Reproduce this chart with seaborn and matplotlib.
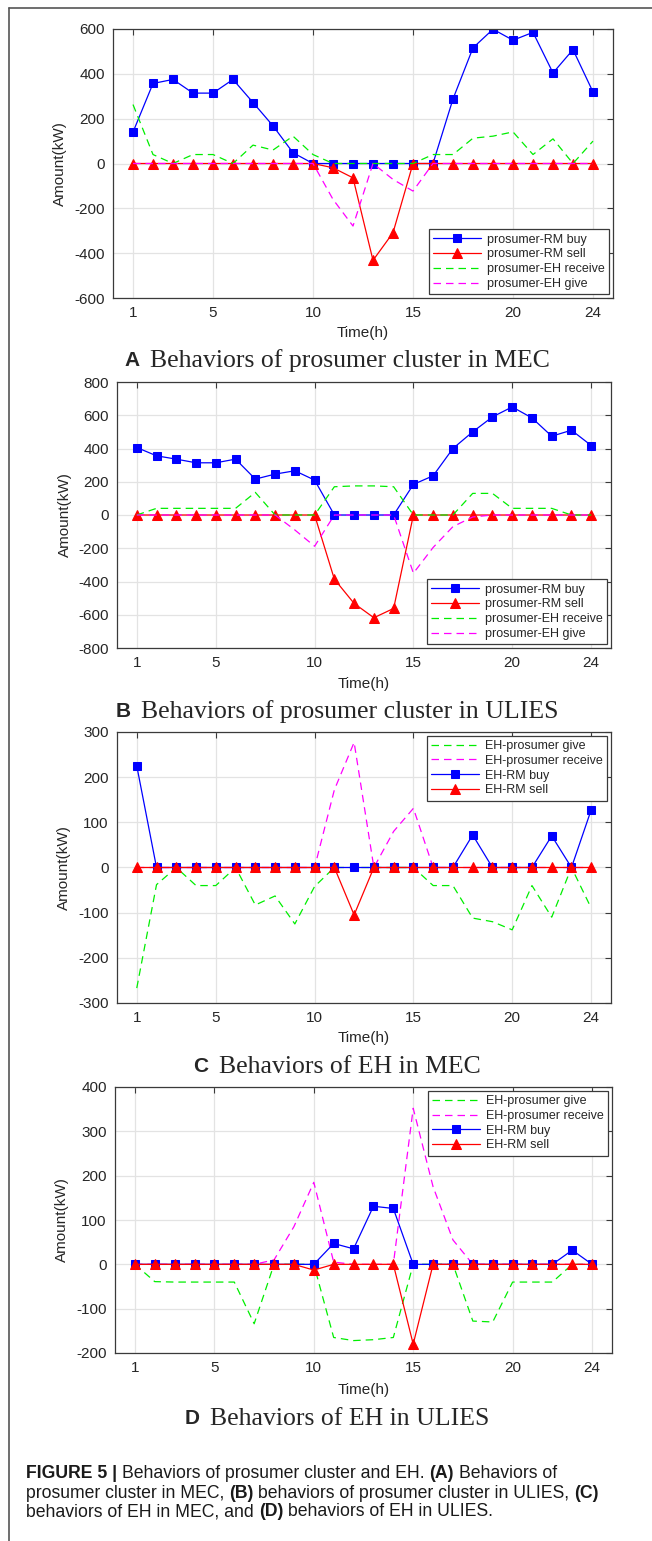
import matplotlib
matplotlib.use("Agg")
import matplotlib.pyplot as plt
import seaborn as sns
import pandas as pd
from matplotlib.lines import Line2D

# hours on the x axis
hours = list(range(1, 25))

# (A) prosumer cluster in MEC
a_rm_buy = [140, 357, 375, 314, 314, 375, 272, 168, 48, 0, 0, 0, 0, 0, 0, 0, 288, 516, 599, 550, 585, 404, 508, 319]
a_rm_sell = [0, 0, 0, 0, 0, 0, 0, 0, 0, 0, -19, -64, -432, -309, 0, 0, 0, 0, 0, 0, 0, 0, 0, 0]
a_eh_receive = [263, 40, 0, 40, 40, 0, 82, 60, 122, 40, 0, 0, 0, 0, 0, 40, 40, 113, 122, 141, 40, 110, 0, 100]
a_eh_give = [0, 0, 0, 0, 0, 0, 0, 0, 0, 0, -160, -279, 0, -71, -123, 0, 0, 0, 0, 0, 0, 0, 0, 0]

# (B) prosumer cluster in ULIES
b_rm_buy = [406, 356, 336, 314, 314, 336, 216, 246, 266, 210, 0, 0, 0, 0, 184, 236, 400, 500, 590, 650, 584, 474, 510, 418]
b_rm_sell = [0, 0, 0, 0, 0, 0, 0, 0, 0, 0, -386, -532, -618, -562, 0, 0, 0, 0, 0, 0, 0, 0, 0, 0]
b_eh_receive = [0, 40, 40, 40, 40, 40, 136, 0, 0, 0, 170, 175, 175, 170, 0, 0, 0, 130, 130, 40, 40, 40, 0, 0]
b_eh_give = [0, 0, 0, 0, 0, 0, 0, 0, -90, -188, 0, 0, 0, 0, -350, -195, -70, -12, 0, 0, 0, 0, 0, 0]

# (C) EH in MEC
c_pro_give = [-267, -38, 0, -40, -40, 0, -83, -63, -125, -42, 0, 0, 0, 0, 0, -40, -40, -112, -120, -138, -40, -110, 0, -90]
c_pro_receive = [0, 0, 0, 0, 0, 0, 0, 0, 0, 0, 172, 277, 0, 80, 131, 0, 0, 0, 0, 0, 0, 0, 0, 0]
c_rm_buy = [225, 0, 0, 0, 0, 0, 0, 0, 0, 0, 0, 0, 0, 0, 0, 0, 0, 72, 0, 0, 0, 70, 0, 128]
c_rm_sell = [0, 0, 0, 0, 0, 0, 0, 0, 0, 0, 0, -105, 0, 0, 0, 0, 0, 0, 0, 0, 0, 0, 0, 0]

# (D) EH in ULIES
d_pro_give = [0, -39, -40, -40, -40, -40, -134, 0, 0, 0, -165, -172, -170, -165, 0, 0, 0, -128, -130, -40, -40, -40, 0, 0]
d_pro_receive = [0, 0, 0, 0, 0, 0, 0, 10, 85, 185, 5, 0, 0, 0, 352, 175, 55, 0, 0, 0, 0, 0, 0, 0]
d_rm_buy = [0, 0, 0, 0, 0, 0, 0, 0, 0, 0, 47, 35, 131, 126, 0, 0, 0, 0, 0, 0, 0, 0, 32, 0]
d_rm_sell = [0, 0, 0, 0, 0, 0, 0, 0, 0, -13, 0, 0, 0, 0, -180, 0, 0, 0, 0, 0, 0, 0, 0, 0]

xticks = [1, 5, 10, 15, 20, 24]

sns.set_style("whitegrid")
plt.rcParams["font.family"] = ["Liberation Sans", "DejaVu Sans"]
plt.rcParams["axes.unicode_minus"] = False

W, H = 652, 1541
fig = plt.figure(figsize=(W / 100, H / 100), dpi=100)

STYLE = {
    "buy": dict(color="#0000ff", marker="s", markersize=5.5, linestyle="-"),
    "sell": dict(color="#ff0000", marker="^", markersize=7.5, linestyle="-"),
    "green": dict(color="#00ee00", marker=None, linestyle=(0, (6, 4))),
    "magenta": dict(color="#ff00ff", marker=None, linestyle=(0, (6, 4))),
}


def draw_series(ax, values, label, kind):
    st = STYLE[kind]
    df = pd.DataFrame({"hour": hours, "val": values})
    kws = dict(color=st["color"], linestyle=st["linestyle"], linewidth=0.9)
    if st["marker"]:
        kws.update(marker=st["marker"], markersize=st["markersize"],
                   markeredgecolor=st["color"], markerfacecolor=st["color"])
    sns.lineplot(data=df, x="hour", y="val", ax=ax, label=label, **kws)


def panel(box, series, ylim, yticks, legend_loc, xlab_y, ylab_x, letter, caption, cap_y):
    left, top, right, bottom = box
    ax = fig.add_axes([left / W, 1 - bottom / H, (right - left) / W, (bottom - top) / H])
    for values, label, kind in series:
        draw_series(ax, values, label, kind)
    ax.set_xlim(0, 25)
    ax.set_ylim(*ylim)
    ax.set_xticks(xticks)
    ax.set_yticks(yticks)
    ax.grid(True, color="#e3e3e3", linewidth=0.9)
    for s in ax.spines.values():
        s.set_color("#3a3a3a")
        s.set_linewidth(0.9)
    ax.tick_params(direction="in", top=True, right=True, length=4, width=0.8,
                   color="#3a3a3a", labelsize=11, labelcolor="#262626", pad=6)
    ax.set_xlabel("Time(h)", fontsize=11, color="#262626")
    ax.set_ylabel("Amount(kW)", fontsize=11, color="#262626")
    ax.xaxis.label.set_va("center")
    ax.yaxis.label.set_va("center")
    h = bottom - top
    w = right - left
    ax.xaxis.set_label_coords(0.5, -(xlab_y - bottom) / h)
    ax.yaxis.set_label_coords(-(left - ylab_x) / w, 0.5)
    leg = ax.legend(loc=legend_loc, fontsize=9, handlelength=3.8, labelspacing=0.22,
                    borderpad=0.35, borderaxespad=0.3, handletextpad=0.5,
                    fancybox=False, framealpha=1, edgecolor="#3a3a3a")
    leg.get_frame().set_linewidth(0.9)

    # caption under the panel: bold sans letter + serif text, centred
    r = fig.canvas.get_renderer()
    t1 = fig.text(0, 1 - cap_y / H, letter, fontsize=15, fontweight="bold",
                  family=["Liberation Sans"], va="center", ha="left")
    t2 = fig.text(0, 1 - cap_y / H, caption, fontsize=18.5,
                  family=["Liberation Serif"], va="center", ha="left")
    w1 = t1.get_window_extent(r).width
    w2 = t2.get_window_extent(r).width
    gap = 10
    x0 = 337 - (w1 + gap + w2) / 2
    t1.set_x(x0 / W)
    t2.set_x((x0 + w1 + gap) / W)
    return ax


panel((113, 29, 613, 298),
      [(a_rm_buy, "prosumer-RM buy", "buy"),
       (a_rm_sell, "prosumer-RM sell", "sell"),
       (a_eh_receive, "prosumer-EH receive", "green"),
       (a_eh_give, "prosumer-EH give", "magenta")],
      (-600, 600), range(-600, 601, 200), "lower right", 333, 60,
      "A", "Behaviors of prosumer cluster in MEC", 361)

panel((117, 382, 611, 648),
      [(b_rm_buy, "prosumer-RM buy", "buy"),
       (b_rm_sell, "prosumer-RM sell", "sell"),
       (b_eh_receive, "prosumer-EH receive", "green"),
       (b_eh_give, "prosumer-EH give", "magenta")],
      (-800, 800), range(-800, 801, 200), "lower right", 684, 65,
      "B", "Behaviors of prosumer cluster in ULIES", 712)

panel((117, 732, 611, 1003),
      [(c_pro_give, "EH-prosumer give", "green"),
       (c_pro_receive, "EH-prosumer receive", "magenta"),
       (c_rm_buy, "EH-RM buy", "buy"),
       (c_rm_sell, "EH-RM sell", "sell")],
      (-300, 300), range(-300, 301, 100), "upper right", 1038, 64,
      "C", "Behaviors of EH in MEC", 1067)

panel((115, 1087, 612, 1353),
      [(d_pro_give, "EH-prosumer give", "green"),
       (d_pro_receive, "EH-prosumer receive", "magenta"),
       (d_rm_buy, "EH-RM buy", "buy"),
       (d_rm_sell, "EH-RM sell", "sell")],
      (-200, 400), range(-200, 401, 100), "upper right", 1390, 62,
      "D", "Behaviors of EH in ULIES", 1419)

# figure caption with bold pieces
caption_lines = [
    [("FIGURE 5 |", True), ("Behaviors of prosumer cluster and EH.", False), ("(A)", True), ("Behaviors of", False)],
    [("prosumer cluster in MEC,", False), ("(B)", True), ("behaviors of prosumer cluster in ULIES,", False), ("(C)", True)],
    [("behaviors of EH in MEC, and", False), ("(D)", True), ("behaviors of EH in ULIES.", False)],
]
line_y = [1473, 1493, 1512]
cap_fs = 12.7
r = fig.canvas.get_renderer()
probe_a = fig.text(0, 0, "xx", fontsize=cap_fs)
probe_b = fig.text(0, 0, "x x", fontsize=cap_fs)
space_w = probe_b.get_window_extent(r).width - probe_a.get_window_extent(r).width
probe_a.remove()
probe_b.remove()
for segs, y in zip(caption_lines, line_y):
    x = 26
    for txt, bold in segs:
        t = fig.text(x / W, 1 - y / H, txt, fontsize=cap_fs, color="#1a1a1a",
                     fontweight="bold" if bold else "normal", va="center", ha="left")
        x += t.get_window_extent(r).width + space_w

# partial frame around the figure
fig.add_artist(Line2D([9 / W, 9 / W], [0, 1 - 8 / H], color="#555555", lw=1.2, transform=fig.transFigure))
fig.add_artist(Line2D([9 / W, 1], [1 - 8 / H, 1 - 8 / H], color="#555555", lw=1.2, transform=fig.transFigure))

fig.savefig("out.png", dpi=100)
